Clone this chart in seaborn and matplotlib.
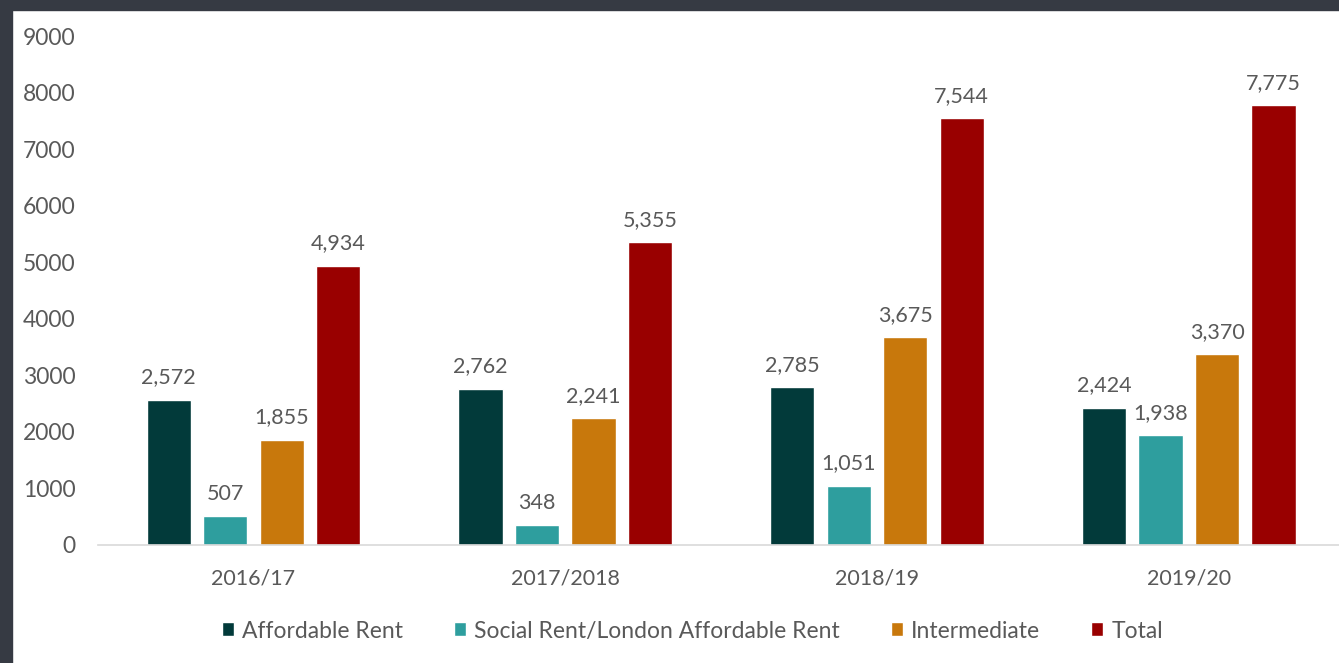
import pandas as pd
import matplotlib.pyplot as plt
import seaborn as sns
from matplotlib.patches import Rectangle

YEARS = ["2016/17", "2017/2018", "2018/19", "2019/20"]
SERIES = ["Affordable Rent", "Social Rent/London Affordable Rent", "Intermediate", "Total"]
AFFORDABLE = [2572, 2762, 2785, 2424]
SOCIAL = [507, 348, 1051, 1938]
INTERMEDIATE = [1855, 2241, 3675, 3370]
TOTAL = [4934, 5355, 7544, 7775]
COLORS = ["#023a3a", "#2e9e9e", "#c8780c", "#990000"]

df = pd.DataFrame({"Year": YEARS, SERIES[0]: AFFORDABLE, SERIES[1]: SOCIAL,
                   SERIES[2]: INTERMEDIATE, SERIES[3]: TOTAL})
long = df.melt(id_vars="Year", var_name="Type", value_name="Units")

sns.set_style("white")
plt.rcParams["font.family"] = ["Lato", "DejaVu Sans"]
TXT = "#595959"

fig = plt.figure(figsize=(13.39, 6.63), dpi=100)
fig.patch.set_facecolor("white")
# dark frame along the top and left edge
fig.patches.append(Rectangle((0, 0), 12 / 1339, 1, transform=fig.transFigure,
                             color="#363a43", zorder=-1))
fig.patches.append(Rectangle((0, 1 - 10 / 663), 1, 10 / 663, transform=fig.transFigure,
                             color="#363a43", zorder=-1))

ax = fig.add_axes([0.0729, 0.178, 0.9313, 0.7677])
sns.barplot(data=long, x="Year", y="Units", hue="Type", hue_order=SERIES,
            palette=COLORS, saturation=1, width=0.725, gap=0.22, ax=ax, legend=True)

for cont in ax.containers:
    ax.bar_label(cont, labels=[f"{v:,.0f}" for v in cont.datavalues],
                 padding=9, fontsize=15.5, color=TXT)

ax.set_ylim(0, 9000)
ax.set_yticks(range(0, 9001, 1000))
ax.set_xlabel("")
ax.set_ylabel("")
ax.tick_params(axis="y", length=0, labelsize=16.5, colors=TXT, pad=16)
ax.tick_params(axis="x", length=0, labelsize=15.5, colors=TXT, pad=17)
for s in ["top", "right", "left"]:
    ax.spines[s].set_visible(False)
ax.spines["bottom"].set_color("#d9d9d9")
ax.spines["bottom"].set_linewidth(1.2)

leg = ax.legend(loc="center", bbox_to_anchor=(0.477, -0.169), ncol=4, frameon=False,
                fontsize=16.5, handlelength=0.55, handleheight=0.55, handletextpad=0.35,
                columnspacing=2.2)
for t in leg.get_texts():
    t.set_color(TXT)

fig.savefig("out.png", dpi=100)
